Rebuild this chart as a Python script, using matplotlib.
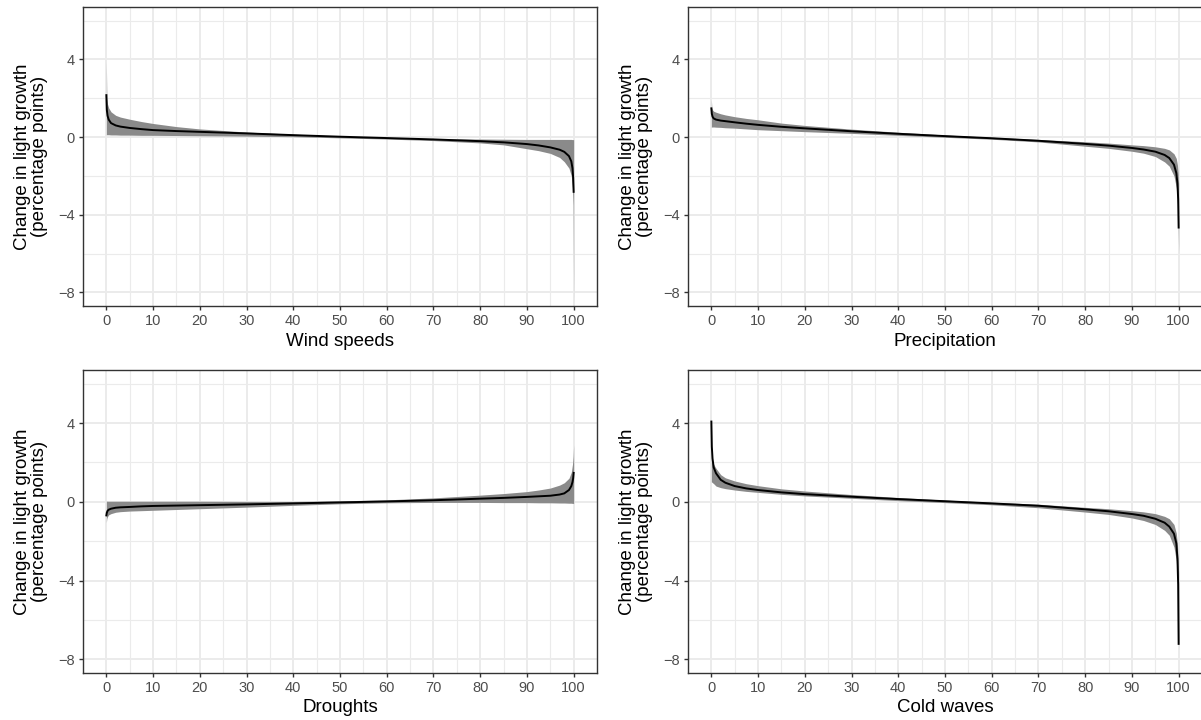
import numpy as np
import matplotlib
matplotlib.use("Agg")
import matplotlib.pyplot as plt
from matplotlib.ticker import MultipleLocator

plt.rcParams['font.family'] = ['Liberation Sans', 'DejaVu Sans']

BAND = '#8a8a8a'
GRID = '#EBEBEB'
BORDER = '#333333'
TICKTXT = '#4D4D4D'

# percentile positions
pct = [0, 0.1, 0.25, 0.5, 1, 2, 3, 5, 7.5, 10, 15, 20, 30, 40, 50, 60, 70,
       80, 85, 90, 92.5, 95, 97, 98, 99, 99.5, 99.75, 99.9, 100]

titles = ["Wind speeds", "Precipitation", "Droughts", "Cold waves"]

wind_mean = [2.16, 1.4, 1.1, 0.9, 0.72, 0.6, 0.54, 0.47, 0.41, 0.36, 0.31, 0.27, 0.19, 0.1,
             0.02, -0.05, -0.12, -0.21, -0.27, -0.36, -0.43, -0.53, -0.65, -0.76, -0.98,
             -1.25, -1.6, -2.1, -2.82]
wind_hi = [3.9, 2.0, 1.7, 1.5, 1.3, 1.12, 1.03, 0.92, 0.8, 0.7, 0.54, 0.42, 0.26, 0.15,
           0.05, -0.03, -0.08, -0.1, -0.11, -0.12, -0.12, -0.12, -0.12, -0.12, -0.12,
           -0.12, -0.13, -0.13, -0.13]
wind_lo = [0.12, 0.12, 0.12, 0.12, 0.11, 0.11, 0.1, 0.1, 0.09, 0.09, 0.08, 0.07, 0.05, 0.02,
           -0.04, -0.1, -0.18, -0.3, -0.4, -0.6, -0.7, -0.84, -1.05, -1.27, -1.6,
           -2.0, -2.6, -3.5, -8.5]

prec_mean = [1.48, 1.2, 1.05, 0.96, 0.9, 0.85, 0.82, 0.76, 0.69, 0.63, 0.53, 0.45, 0.3, 0.17,
             0.05, -0.06, -0.19, -0.35, -0.44, -0.56, -0.64, -0.75, -0.92, -1.08, -1.42,
             -1.85, -2.4, -3.2, -4.66]
prec_hi = [1.94, 1.5, 1.4, 1.33, 1.28, 1.2, 1.14, 1.05, 0.96, 0.89, 0.72, 0.6, 0.41, 0.25,
           0.11, -0.01, -0.12, -0.24, -0.31, -0.4, -0.44, -0.5, -0.58, -0.66, -0.86,
           -1.1, -1.45, -1.9, -2.4]
prec_lo = [0.5, 0.52, 0.52, 0.52, 0.51, 0.5, 0.48, 0.46, 0.42, 0.38, 0.33, 0.28, 0.19, 0.09,
           -0.01, -0.11, -0.25, -0.47, -0.58, -0.73, -0.83, -1.0, -1.28, -1.5, -2.0,
           -2.6, -3.4, -4.4, -6.0]

drought_mean = [-0.69, -0.55, -0.46, -0.4, -0.35, -0.3, -0.28, -0.26, -0.23, -0.21, -0.19,
                -0.17, -0.13, -0.08, -0.03, 0.02, 0.08, 0.16, 0.2, 0.25, 0.28, 0.31, 0.37,
                0.43, 0.6, 0.8, 1.0, 1.2, 1.47]
drought_hi = [0.05, 0.03, 0.03, 0.03, 0.03, 0.03, 0.03, 0.03, 0.03, 0.03, 0.03, 0.03, 0.02,
              0.02, 0.05, 0.1, 0.2, 0.34, 0.42, 0.52, 0.6, 0.7, 0.85, 0.97, 1.2, 1.5, 1.9,
              2.3, 2.9]
drought_lo = [-1.05, -0.85, -0.75, -0.66, -0.6, -0.53, -0.5, -0.47, -0.45, -0.43, -0.39,
              -0.35, -0.27, -0.18, -0.1, -0.05, -0.03, -0.03, -0.04, -0.04, -0.05, -0.05,
              -0.06, -0.06, -0.07, -0.07, -0.08, -0.08, -0.08]

cold_mean = [4.08, 2.8, 2.2, 1.75, 1.45, 1.12, 0.97, 0.8, 0.68, 0.6, 0.48, 0.39, 0.26, 0.14,
             0.03, -0.08, -0.2, -0.38, -0.48, -0.62, -0.71, -0.86, -1.06, -1.26, -1.62,
             -2.1, -2.9, -4.2, -7.22]
cold_hi = [2.5, 2.3, 2.1, 1.9, 1.7, 1.38, 1.22, 1.06, 0.92, 0.82, 0.66, 0.55, 0.37, 0.22,
           0.09, -0.02, -0.12, -0.28, -0.35, -0.45, -0.51, -0.6, -0.74, -0.86, -1.15,
           -1.6, -2.2, -3.0, -3.6]
cold_lo = [1.02, 1.0, 0.97, 0.92, 0.8, 0.72, 0.67, 0.6, 0.53, 0.48, 0.38, 0.3, 0.18, 0.06,
           -0.04, -0.15, -0.3, -0.52, -0.64, -0.82, -0.95, -1.15, -1.45, -1.7, -2.3,
           -3.0, -4.0, -5.2, -7.5]

means = [wind_mean, prec_mean, drought_mean, cold_mean]
highs = [wind_hi, prec_hi, drought_hi, cold_hi]
lows = [wind_lo, prec_lo, drought_lo, cold_lo]

W, H = 1201, 720
fig = plt.figure(figsize=(W / 100, H / 100), dpi=100)

# panel boxes in pixels: left, top, right, bottom
boxes = [(83, 7, 597, 306), (688, 7, 1202, 306),
         (83, 370, 597, 673), (688, 370, 1202, 673)]

for i in range(4):
    l, t, r, b = boxes[i]
    ax = fig.add_axes([l / W, 1 - b / H, (r - l) / W, (b - t) / H])
    x = np.array(pct)
    ax.fill_between(x, lows[i], highs[i], color=BAND, lw=0, zorder=2)
    ax.plot(x, means[i], color='black', lw=1.4, zorder=3)

    ax.set_xlim(-5, 105)
    ax.set_ylim(-8.7, 6.7)
    ax.xaxis.set_major_locator(MultipleLocator(10))
    ax.xaxis.set_minor_locator(MultipleLocator(5))
    ax.yaxis.set_major_locator(MultipleLocator(4))
    ax.yaxis.set_minor_locator(MultipleLocator(2))
    ax.grid(which='major', color=GRID, lw=1.4, zorder=0)
    ax.grid(which='minor', color=GRID, lw=0.8, zorder=0)
    ax.set_axisbelow(True)
    ax.tick_params(which='major', direction='out', length=3, width=1.0,
                   color=BORDER, labelsize=10.5, labelcolor=TICKTXT, pad=3)
    ax.tick_params(which='minor', length=0)
    for s in ax.spines.values():
        s.set_color(BORDER)
        s.set_linewidth(1.0)

    ax.set_xlabel(titles[i], fontsize=13.5, labelpad=3)
    ax.set_ylabel("Change in light growth\n(percentage points)", fontsize=13.5,
                  labelpad=7, linespacing=1.0)

fig.savefig("out.png", dpi=100)
